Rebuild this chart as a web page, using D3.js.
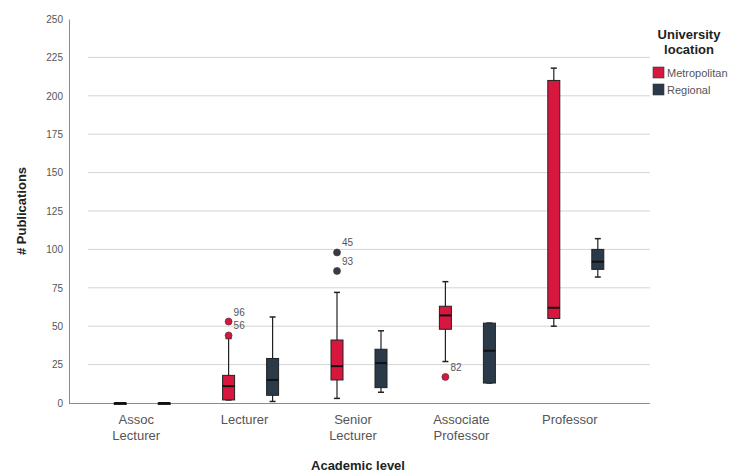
<!DOCTYPE html>
<html>
<head>
<meta charset="utf-8">
<script src="https://cdn.jsdelivr.net/npm/d3@7"></script>
<style>
  body { margin: 0; background: #fff; }
  text { font-family: "Liberation Sans", Arial, sans-serif; }
</style>
</head>
<body>
<div id="chart"></div>
<script>
(function(){
  var width = 741, height = 476;

  var levels = ["Assoc Lecturer", "Lecturer", "Senior Lecturer", "Associate Professor", "Professor"];
  var locations = ["Metropolitan", "Regional"];
  var colors = ["#d8173f", "#2a3a48"];
  var yTicks = [0, 25, 50, 75, 100, 125, 150, 175, 200, 225, 250];

  // [whisker low, q1, median, q3, whisker high] per level
  var metroStats = [
    [0, 0, 0, 0, 0],
    [2, 2, 11, 18, 42],
    [3, 15, 24, 41, 72],
    [27, 48, 57, 63, 79],
    [50, 55, 62, 210, 218]
  ];
  var regionalStats = [
    [0, 0, 0, 0, 0],
    [1, 5, 15, 29, 56],
    [7, 10, 26, 35, 47],
    [13, 13, 34, 52, 52],
    [82, 87, 92, 100, 107]
  ];
  // outliers: level, location, value, case label
  var outlierLevel = ["Lecturer", "Lecturer", "Senior Lecturer", "Senior Lecturer", "Associate Professor"];
  var outlierLoc = ["Metropolitan", "Metropolitan", "Metropolitan", "Metropolitan", "Metropolitan"];
  var outlierValue = [53, 44, 98, 86, 17];
  var outlierCase = ["96", "56", "45", "93", "82"];

  var svg = d3.select("#chart").append("svg")
    .attr("width", width).attr("height", height);

  var x = d3.scaleBand().domain(levels).range([88, 630]);
  var sub = d3.scaleBand().domain(locations).range([-22, 22]).paddingInner(0);
  var subOffset = function(loc){ return loc === "Metropolitan" ? -22 : 22 };
  var y = d3.scaleLinear().domain([0, 250]).range([403, 19]);
  var color = d3.scaleOrdinal().domain(locations).range(colors);

  // gridlines
  svg.append("g").selectAll("line")
    .data(yTicks.filter(function(d){ return d > 0 && d < 250 }))
    .enter().append("line")
    .attr("x1", 88).attr("x2", 650)
    .attr("y1", function(d){ return y(d) }).attr("y2", function(d){ return y(d) })
    .attr("stroke", "#d4d4d4").attr("stroke-width", 1);

  // y axis
  var yAxis = svg.append("g").attr("transform", "translate(69,0)")
    .call(d3.axisLeft(y).tickValues(yTicks).tickSize(0).tickPadding(6));
  yAxis.select(".domain").attr("stroke", "#8a8a8a");
  yAxis.selectAll("text").attr("fill", "#555").style("font-size", "10px");

  // x axis
  svg.append("line").attr("x1", 69).attr("x2", 650)
    .attr("y1", y(0) + 0.5).attr("y2", y(0) + 0.5).attr("stroke", "#8a8a8a");

  var labelLines = {
    "Assoc Lecturer": ["Assoc", "Lecturer"],
    "Lecturer": ["Lecturer"],
    "Senior Lecturer": ["Senior", "Lecturer"],
    "Associate Professor": ["Associate", "Professor"],
    "Professor": ["Professor"]
  };
  var xl = svg.append("g").selectAll("text").data(levels).enter().append("text")
    .attr("x", function(d){ return x(d) + x.bandwidth() / 2 - 6 })
    .attr("y", 424)
    .attr("text-anchor", "middle")
    .attr("fill", "#555")
    .style("font-size", "13px");
  xl.each(function(d){
    var t = d3.select(this);
    labelLines[d].forEach(function(s, i){
      t.append("tspan").attr("x", t.attr("x")).attr("dy", i === 0 ? 0 : 16).text(s);
    });
  });

  // boxes
  var boxData = [];
  levels.forEach(function(lv, i){
    boxData.push({level: lv, loc: "Metropolitan", s: metroStats[i]});
    boxData.push({level: lv, loc: "Regional", s: regionalStats[i]});
  });
  var bw = 12;
  var g = svg.append("g").selectAll("g").data(boxData).enter().append("g")
    .attr("transform", function(d){
      return "translate(" + (x(d.level) + x.bandwidth() / 2 + subOffset(d.loc)) + ",0)";
    });
  g.append("line").attr("x1", 0).attr("x2", 0)
    .attr("y1", function(d){ return y(d.s[0]) }).attr("y2", function(d){ return y(d.s[4]) })
    .attr("stroke", "#222").attr("stroke-width", 1.2);
  g.selectAll(".cap").data(function(d){ return [d.s[0], d.s[4]] }).enter().append("line")
    .attr("x1", -3).attr("x2", 3)
    .attr("y1", function(v){ return y(v) }).attr("y2", function(v){ return y(v) })
    .attr("stroke", "#222").attr("stroke-width", 1.5);
  g.append("rect")
    .attr("x", -bw / 2).attr("width", bw)
    .attr("y", function(d){ return y(d.s[3]) })
    .attr("height", function(d){ return Math.max(1.5, y(d.s[1]) - y(d.s[3])) })
    .attr("fill", function(d){ return color(d.loc) })
    .attr("stroke", "#222").attr("stroke-width", 1);
  g.append("line").attr("x1", -bw / 2).attr("x2", bw / 2)
    .attr("y1", function(d){ return y(d.s[2]) }).attr("y2", function(d){ return y(d.s[2]) })
    .attr("stroke", "#111").attr("stroke-width", 2);

  // outliers
  var outG = svg.append("g").selectAll("g").data(outlierValue).enter().append("g")
    .attr("transform", function(v, i){
      return "translate(" + (x(outlierLevel[i]) + x.bandwidth() / 2 + subOffset(outlierLoc[i])) + "," + y(v) + ")";
    });
  outG.append("circle").attr("r", 3.5)
    .attr("fill", function(v, i){ return v > 80 ? "#3a3a44" : color(outlierLoc[i]) })
    .attr("stroke", "#333").attr("stroke-width", 0.6);
  outG.append("text").attr("x", 5).attr("y", -6)
    .attr("fill", "#555").style("font-size", "10px")
    .text(function(v, i){ return outlierCase[i] });

  // axis titles
  svg.append("text").attr("transform", "translate(26,211) rotate(-90)")
    .attr("text-anchor", "middle").attr("font-weight", "bold")
    .attr("fill", "#222").style("font-size", "13px").text("# Publications");
  svg.append("text").attr("x", 358).attr("y", 470)
    .attr("text-anchor", "middle").attr("font-weight", "bold")
    .attr("fill", "#222").style("font-size", "13px").text("Academic level");

  // legend
  var lg = svg.append("g");
  lg.append("text").attr("x", 689).attr("y", 39).attr("text-anchor", "middle")
    .attr("font-weight", "bold").attr("fill", "#222").style("font-size", "13px")
    .selectAll("tspan").data(["University", "location"]).enter().append("tspan")
    .attr("x", 689).attr("dy", function(d, i){ return i ? 15 : 0 }).text(function(d){ return d });
  var li = lg.selectAll(".li").data(locations).enter().append("g")
    .attr("transform", function(d, i){ return "translate(653," + (67 + i * 17) + ")" });
  li.append("rect").attr("width", 11).attr("height", 11)
    .attr("fill", function(d){ return color(d) }).attr("stroke", "#333").attr("stroke-width", 0.6);
  li.append("text").attr("x", 14).attr("y", 10).attr("fill", "#555")
    .style("font-size", "11px").text(function(d){ return d });
})();
</script>
</body>
</html>
